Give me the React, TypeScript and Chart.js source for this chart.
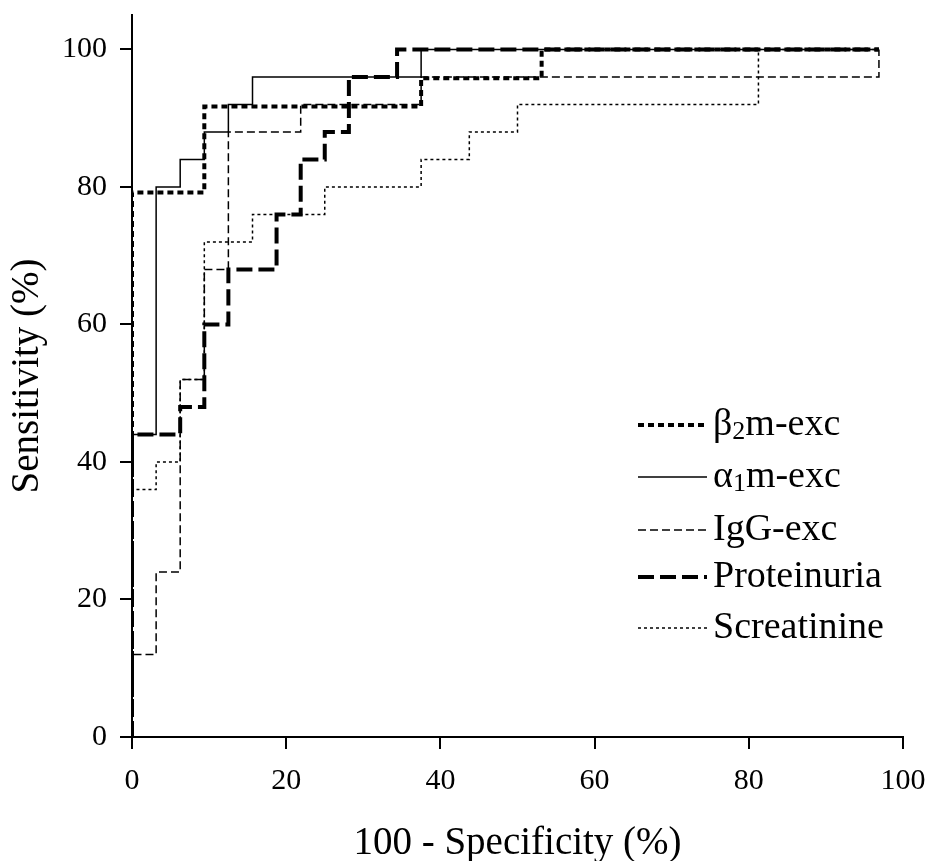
import React, { useEffect, useRef } from "react";
import { Chart, registerables } from "chart.js";

Chart.register(...registerables);

// ROC operating points: x = 100 - Specificity (%), y = Sensitivity (%)
const b2mX = [0, 0, 9.38, 37.5, 53.13, 96.88];
const b2mY = [0, 79.2, 91.7, 95.8, 100, 100];

const a1mX = [0, 0, 3.13, 6.25, 9.38, 12.5, 15.63, 37.5, 96.88];
const a1mY = [0, 44, 80, 84, 88, 92, 96, 100, 100];

const iggX = [0, 0, 3.13, 6.25, 9.38, 12.5, 21.88, 37.5, 96.88];
const iggY = [0, 12, 24, 52, 68, 88, 92, 96, 100];

const protX = [0, 0, 6.25, 9.38, 12.5, 18.75, 21.88, 25, 28.13, 34.38, 96.88];
const protY = [0, 44, 48, 60, 68, 76, 84, 88, 96, 100, 100];

const screX = [0, 0, 3.13, 6.25, 9.38, 15.63, 25, 37.5, 43.75, 50, 81.25, 96.88];
const screY = [0, 36, 40, 52, 72, 76, 80, 84, 88, 92, 100, 100];

const seriesLabels = ["β₂m-exc", "α₁m-exc", "IgG-exc", "Proteinuria", "Screatinine"];
const xTitle = "100 - Specificity (%)";
const yTitle = "Sensitivity (%)";

const FONT = "'Liberation Serif', 'Times New Roman', serif";

const toPoints = (xs: number[], ys: number[]) => xs.map((x, i) => ({ x, y: ys[i] }));

const SUBS: Record<string, string> = {
  "₀": "0", "₁": "1", "₂": "2", "₃": "3", "₄": "4",
  "₅": "5", "₆": "6", "₇": "7", "₈": "8", "₉": "9",
};

const legendPlugin = {
  id: "rocLegend",
  afterDraw(chart: any) {
    const ctx = chart.ctx as CanvasRenderingContext2D;
    const area = chart.chartArea;
    const x0 = area.left + 506;
    const x1 = area.left + 575;
    const tx = area.left + 581;
    const rows = [425, 477, 530, 577, 628];
    ctx.save();
    chart.data.datasets.forEach((ds: any, i: number) => {
      const y = rows[i];
      ctx.beginPath();
      ctx.strokeStyle = ds.borderColor;
      ctx.lineWidth = ds.borderWidth;
      ctx.setLineDash(ds.borderDash || []);
      ctx.lineCap = "butt";
      ctx.moveTo(x0, y);
      ctx.lineTo(x1, y);
      ctx.stroke();
      ctx.setLineDash([]);
      ctx.fillStyle = "#000";
      ctx.textBaseline = "middle";
      ctx.textAlign = "left";
      let cx = tx;
      for (const ch of ds.label as string) {
        if (SUBS[ch]) {
          ctx.font = `26px ${FONT}`;
          ctx.fillText(SUBS[ch], cx, y + 7);
          cx += ctx.measureText(SUBS[ch]).width;
        } else {
          ctx.font = `38px ${FONT}`;
          ctx.fillText(ch, cx, y);
          cx += ctx.measureText(ch).width;
        }
      }
    });
    ctx.restore();
  },
};

export default function App() {
  const ref = useRef<HTMLCanvasElement | null>(null);

  useEffect(() => {
    if (!ref.current) return;
    const common = {
      borderColor: "#000",
      backgroundColor: "#000",
      pointRadius: 0,
      fill: false,
      stepped: "before" as const,
      tension: 0,
    };
    const chart = new Chart(ref.current, {
      type: "line",
      data: {
        datasets: [
          { ...common, label: seriesLabels[0], data: toPoints(b2mX, b2mY), borderWidth: 4, borderDash: [6, 4] },
          { ...common, label: seriesLabels[1], data: toPoints(a1mX, a1mY), borderWidth: 1.5 },
          { ...common, label: seriesLabels[2], data: toPoints(iggX, iggY), borderWidth: 1.5, borderDash: [8, 4] },
          { ...common, label: seriesLabels[3], data: toPoints(protX, protY), borderWidth: 4, borderDash: [16, 6] },
          { ...common, label: seriesLabels[4], data: toPoints(screX, screY), borderWidth: 1.5, borderDash: [3, 3] },
        ],
      },
      options: {
        responsive: false,
        animation: false,
        devicePixelRatio: 1,
        layout: { padding: { left: 6, top: 15, right: 26, bottom: 0 } },
        plugins: {
          legend: { display: false },
          tooltip: { enabled: false },
        },
        scales: {
          x: {
            type: "linear",
            min: 0,
            max: 100,
            ticks: {
              stepSize: 20,
              color: "#000",
              font: { family: FONT, size: 30 },
              padding: 14,
              maxRotation: 0,
            },
            grid: { drawOnChartArea: false, drawTicks: true, tickLength: 12, color: "#000", lineWidth: 2 },
            border: { display: true, color: "#000", width: 2 },
            title: {
              display: true,
              text: xTitle,
              color: "#000",
              font: { family: FONT, size: 39, lineHeight: 0.9 },
              padding: 0,
            },
            afterFit: (scale: any) => {
              scale.height = 124;
              scale.paddingLeft = 0;
              scale.paddingRight = 0;
            },
          },
          y: {
            type: "linear",
            min: 0,
            max: 105,
            ticks: {
              stepSize: 20,
              color: "#000",
              font: { family: FONT, size: 30, lineHeight: 1.0 },
              padding: 13,
            },
            afterBuildTicks: (scale: any) => {
              scale.ticks = scale.ticks.filter((t: any) => t.value <= 100);
            },
            grid: { drawOnChartArea: false, drawTicks: true, tickLength: 12, color: "#000", lineWidth: 2 },
            border: { display: true, color: "#000", width: 2 },
            title: {
              display: true,
              text: yTitle,
              color: "#000",
              font: { family: FONT, size: 39, lineHeight: 1.1 },
              padding: 0,
            },
            afterFit: (scale: any) => {
              scale.width = 126;
              scale.paddingTop = 0;
              scale.paddingBottom = 0;
            },
          },
        },
      },
      plugins: [legendPlugin],
    });
    return () => chart.destroy();
  }, []);

  return (
    <div style={{ position: "absolute", left: 0, top: 0, width: 929, height: 861, background: "#fff" }}>
      <canvas ref={ref} width={929} height={861} style={{ display: "block" }} />
    </div>
  );
}
